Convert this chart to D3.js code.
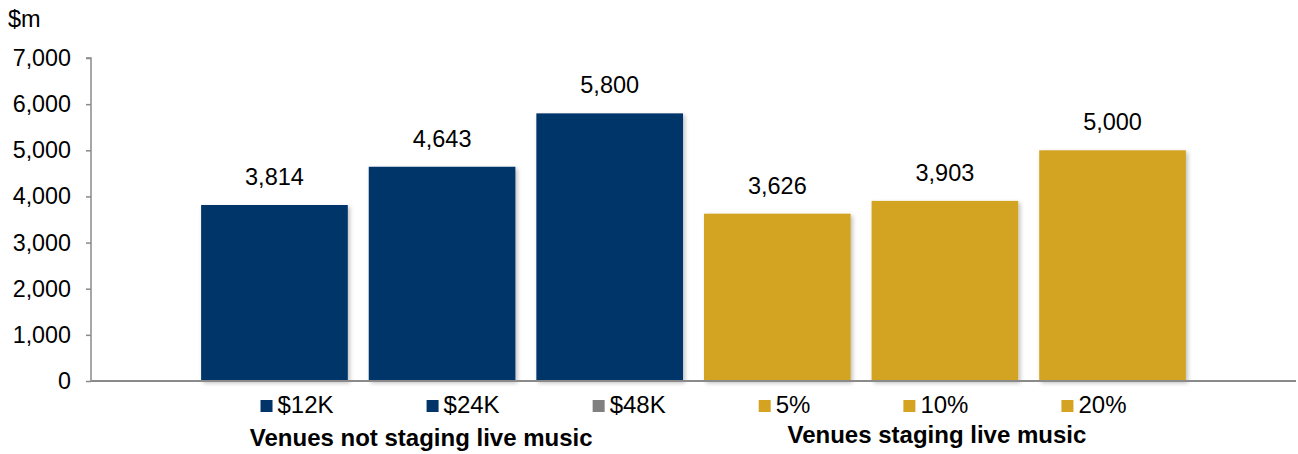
<!DOCTYPE html>
<html>
<head>
<meta charset="utf-8">
<script src="https://cdn.jsdelivr.net/npm/d3@7/dist/d3.min.js"></script>
<style>
  html, body { margin: 0; padding: 0; background: #fff; }
  svg text { font-family: "Liberation Sans", Arial, sans-serif; fill: #000; }
</style>
</head>
<body>
<svg id="chart" width="1298" height="454"></svg>
<script>
// Estimated industry value ($m) under each scenario
const scenarios = ["$12K", "$24K", "$48K", "5%", "10%", "20%"];
const values = [3814, 4643, 5800, 3626, 3903, 5000];
const barGroups = ["none", "none", "none", "live", "live", "live"];
const legendSwatchGroups = ["none", "none", "grey", "live", "live", "live"];
const groupNames = ["Venues not staging live music", "Venues staging live music"];
const yTicks = [0, 1000, 2000, 3000, 4000, 5000, 6000, 7000];
const unitLabel = "$m";

const colors = { none: "#02346A", live: "#D3A321", grey: "#808080" };
const axisColor = "#8A8A8A";

const svg = d3.select("#chart");
const plot = { left: 91, right: 1296, top: 58, bottom: 381 };

const x = d3.scaleBand()
  .domain(scenarios)
  .range([plot.left, plot.right])
  .paddingInner(0.125)
  .paddingOuter(0.657);

const y = d3.scaleLinear()
  .domain([0, 7000])
  .range([plot.bottom, plot.top]);

// soft shadow under the bars
const defs = svg.append("defs");
defs.append("filter")
  .attr("id", "barShadow")
  .attr("x", "-10%").attr("y", "-10%")
  .attr("width", "130%").attr("height", "130%")
  .append("feDropShadow")
  .attr("dx", 2).attr("dy", 2)
  .attr("stdDeviation", 2)
  .attr("flood-color", "#000")
  .attr("flood-opacity", 0.25);

// bars
svg.append("g")
  .selectAll("rect")
  .data(scenarios)
  .join("rect")
  .attr("x", d => x(d))
  .attr("width", x.bandwidth())
  .attr("y", (d, i) => y(values[i]))
  .attr("height", (d, i) => y(0) - y(values[i]))
  .attr("fill", (d, i) => colors[barGroups[i]])
  .attr("filter", "url(#barShadow)");

// value labels
svg.append("g")
  .selectAll("text")
  .data(scenarios)
  .join("text")
  .attr("x", d => x(d) + x.bandwidth() / 2)
  .attr("y", (d, i) => y(values[i]) - 20)
  .attr("text-anchor", "middle")
  .style("font-size", "23.5px")
  .text((d, i) => d3.format(",")(values[i]));

// y axis
const yAxis = svg.append("g")
  .attr("transform", `translate(${plot.left},0)`)
  .call(d3.axisLeft(y).tickValues(yTicks).tickSize(5).tickPadding(15).tickFormat(d3.format(",")));
yAxis.selectAll("path, line").attr("stroke", axisColor).attr("stroke-width", 1.5);
yAxis.select(".domain").attr("d", `M-5,${y(7000)}H0V${y(0)}`);
yAxis.selectAll("text")
  .style("font-size", "23.3px")
  .style("font-family", "'Liberation Sans', Arial, sans-serif")
  .attr("fill", "#000");

// x baseline
svg.append("line")
  .attr("x1", plot.left).attr("x2", plot.right)
  .attr("y1", y(0)).attr("y2", y(0))
  .attr("stroke", axisColor).attr("stroke-width", 2);

// unit label
svg.append("text")
  .attr("x", 8).attr("y", 27)
  .style("font-size", "23.5px")
  .text(unitLabel);

// legend: entries spaced evenly and centred under the plot
const legend = svg.append("g");
const items = legend.selectAll("g")
  .data(scenarios)
  .join("g");
items.append("rect")
  .attr("width", 12).attr("height", 12)
  .attr("y", 400)
  .attr("fill", (d, i) => colors[legendSwatchGroups[i]]);
items.append("text")
  .attr("x", 17).attr("y", 412.5)
  .style("font-size", "24px")
  .text(d => d);
const gap = 93;
const widths = items.nodes().map(n => 17 + n.querySelector("text").getComputedTextLength());
const total = d3.sum(widths) + gap * (widths.length - 1);
let cx = (plot.left + plot.right) / 2 - total / 2;
items.each(function(d, i) {
  d3.select(this).attr("transform", `translate(${cx},0)`);
  cx += widths[i] + gap;
});

// group captions
const groupPos = [0.274, 0.702];
const groupBaseline = [446, 443];
svg.append("g")
  .selectAll("text")
  .data(groupNames)
  .join("text")
  .attr("x", (d, i) => plot.left + groupPos[i] * (plot.right - plot.left))
  .attr("y", (d, i) => groupBaseline[i])
  .attr("text-anchor", "middle")
  .style("font-size", "24px")
  .style("font-weight", "bold")
  .text(d => d);
</script>
</body>
</html>
